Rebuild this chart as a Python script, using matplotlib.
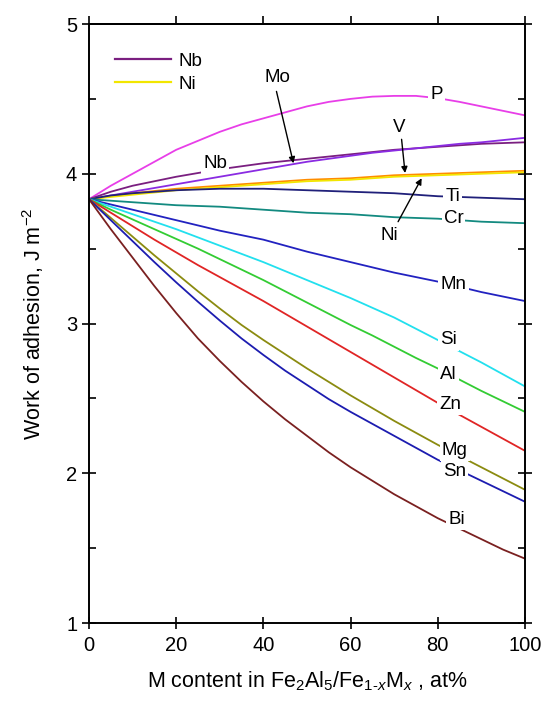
import matplotlib
matplotlib.use('Agg')
import matplotlib.pyplot as plt
from matplotlib.lines import Line2D

plt.rcParams['font.family'] = ['Liberation Sans', 'DejaVu Sans']
plt.rcParams['mathtext.fontset'] = 'custom'
plt.rcParams['mathtext.rm'] = 'Liberation Sans'
plt.rcParams['mathtext.it'] = 'Liberation Sans:italic'

# M content, at%
x = list(range(0, 101, 5))

# work of adhesion, J m^-2
P = [3.83, 3.92, 4.00, 4.08, 4.16, 4.22, 4.28, 4.33, 4.37, 4.41, 4.45,
     4.48, 4.50, 4.515, 4.52, 4.52, 4.505, 4.48, 4.45, 4.42, 4.39]
Nb = [3.83, 3.88, 3.92, 3.95, 3.98, 4.005, 4.03, 4.05, 4.07, 4.085, 4.10,
      4.115, 4.13, 4.145, 4.16, 4.17, 4.18, 4.19, 4.20, 4.205, 4.21]
Mo = [3.83, 3.855, 3.88, 3.905, 3.93, 3.955, 3.98, 4.005, 4.03, 4.055, 4.08,
      4.10, 4.12, 4.14, 4.155, 4.17, 4.185, 4.20, 4.21, 4.225, 4.24]
V = [3.83, 3.85, 3.87, 3.885, 3.90, 3.91, 3.92, 3.93, 3.94, 3.95, 3.96,
     3.965, 3.97, 3.98, 3.99, 3.995, 4.00, 4.005, 4.01, 4.015, 4.02]
Ni = [3.83, 3.845, 3.86, 3.875, 3.89, 3.90, 3.91, 3.92, 3.93, 3.94, 3.95,
      3.955, 3.96, 3.97, 3.98, 3.985, 3.99, 3.995, 4.00, 4.005, 4.01]
Ti = [3.83, 3.855, 3.87, 3.88, 3.89, 3.895, 3.90, 3.90, 3.90, 3.895, 3.89,
      3.885, 3.88, 3.875, 3.87, 3.86, 3.85, 3.845, 3.84, 3.835, 3.83]
Cr = [3.83, 3.82, 3.81, 3.80, 3.79, 3.785, 3.78, 3.77, 3.76, 3.75, 3.74,
      3.735, 3.73, 3.72, 3.71, 3.705, 3.70, 3.69, 3.68, 3.675, 3.67]
Mn = [3.83, 3.795, 3.76, 3.725, 3.69, 3.655, 3.62, 3.59, 3.56, 3.52, 3.48,
      3.445, 3.41, 3.375, 3.34, 3.31, 3.28, 3.245, 3.21, 3.18, 3.15]
Si = [3.83, 3.78, 3.73, 3.68, 3.63, 3.575, 3.52, 3.465, 3.41, 3.35, 3.29,
      3.23, 3.17, 3.105, 3.04, 2.965, 2.89, 2.815, 2.74, 2.66, 2.58]
Al = [3.83, 3.76, 3.695, 3.63, 3.565, 3.50, 3.43, 3.36, 3.29, 3.215, 3.14,
      3.065, 2.99, 2.92, 2.845, 2.77, 2.70, 2.625, 2.55, 2.48, 2.41]
Zn = [3.83, 3.74, 3.65, 3.56, 3.475, 3.39, 3.31, 3.23, 3.15, 3.065, 2.98,
      2.895, 2.81, 2.725, 2.64, 2.555, 2.47, 2.39, 2.31, 2.23, 2.15]
Mg = [3.83, 3.705, 3.58, 3.455, 3.335, 3.215, 3.10, 2.99, 2.89, 2.795, 2.70,
      2.61, 2.52, 2.435, 2.35, 2.27, 2.19, 2.115, 2.04, 1.965, 1.89]
Sn = [3.83, 3.69, 3.55, 3.41, 3.275, 3.145, 3.02, 2.90, 2.79, 2.685, 2.59,
      2.495, 2.41, 2.33, 2.25, 2.17, 2.09, 2.02, 1.95, 1.88, 1.81]
Bi = [3.83, 3.63, 3.44, 3.25, 3.07, 2.90, 2.75, 2.61, 2.48, 2.36, 2.25,
      2.14, 2.04, 1.95, 1.86, 1.78, 1.70, 1.63, 1.56, 1.49, 1.43]

series = [
    ('P', P, '#e83ee8'),
    ('Nb', Nb, '#7a1f80'),
    ('Mo', Mo, '#8a2be2'),
    ('V', V, '#ff8c00'),
    ('Ni', Ni, '#f2e600'),
    ('Ti', Ti, '#20207a'),
    ('Cr', Cr, '#138a80'),
    ('Mn', Mn, '#2222c0'),
    ('Si', Si, '#22e0ee'),
    ('Al', Al, '#33cc33'),
    ('Zn', Zn, '#e02525'),
    ('Mg', Mg, '#8b8b10'),
    ('Sn', Sn, '#1c1cb0'),
    ('Bi', Bi, '#7a2020'),
]

# curve labels (name, x, y)
labels = [
    ('P', 79.7, 4.53), ('Nb', 28.9, 4.07), ('Mo', 43.3, 4.64), ('V', 71.2, 4.31),
    ('Ni', 69.0, 3.59), ('Ti', 83.4, 3.85), ('Cr', 83.6, 3.70), ('Mn', 83.6, 3.26),
    ('Si', 82.4, 2.89), ('Al', 82.4, 2.66), ('Zn', 82.8, 2.46), ('Mg', 83.9, 2.15),
    ('Sn', 83.9, 2.01), ('Bi', 84.3, 1.69),
]

# arrows: (tail, head)
arrows = [
    ((43.0, 4.55), (46.9, 4.07)),
    ((71.7, 4.23), (72.5, 4.005)),
    ((70.9, 3.68), (76.3, 3.97)),
]

fig = plt.figure(figsize=(5.44, 7.02), dpi=100)
ax = fig.add_axes([0.1636, 0.1125, 0.8014, 0.8533])

for name, y, c in series:
    ax.plot(x, y, color=c, lw=1.3)

for name, lx, ly in labels:
    ax.text(lx, ly, name, fontsize=13.5, ha='center', va='center', zorder=5,
            bbox=dict(facecolor='white', edgecolor='none', pad=1.5))

for tail, head in arrows:
    ax.annotate('', xy=head, xytext=tail, zorder=6,
                arrowprops=dict(arrowstyle='-|>', color='black', lw=1.0,
                                mutation_scale=9, shrinkA=0, shrinkB=0))

handles = [Line2D([], [], color='#7a1f80', lw=1.6), Line2D([], [], color='#f2e600', lw=1.6)]
ax.legend(handles, ['Nb', 'Ni'], loc='upper left', bbox_to_anchor=(0.02, 0.98),
          frameon=False, fontsize=13.5, handlelength=3.0, handletextpad=0.4,
          labelspacing=0.3)

ax.set_xlim(0, 100)
ax.set_ylim(1, 5)
ax.set_xticks([0, 20, 40, 60, 80, 100])
ax.set_yticks([1, 2, 3, 4, 5])
ax.set_yticks([1.5, 2.5, 3.5, 4.5], minor=True)
ax.tick_params(axis='x', direction='inout', length=9, width=1.2, labelsize=14.5, pad=5)
ax.tick_params(axis='y', which='major', direction='inout', length=10, width=1.2,
               labelsize=14.5, right=True)
ax.tick_params(axis='y', which='minor', direction='in', length=5, width=1.2, right=True)
top = ax.secondary_xaxis('top')
top.set_xticks([0, 20, 40, 60, 80, 100])
top.tick_params(direction='out', length=6, width=1.2, labeltop=False)
top.spines['top'].set_linewidth(1.4)
for s in ax.spines.values():
    s.set_linewidth(1.4)

ax.set_xlabel(r'M content in Fe$_2$Al$_5$/Fe$_{1\text{-}\mathit{x}}$M$_\mathit{x}$ , at%',
              fontsize=15.5, labelpad=10)
ax.set_ylabel(r'Work of adhesion, J m$^{-2}$', fontsize=15.5, labelpad=14)

fig.savefig('out.png', dpi=100)
